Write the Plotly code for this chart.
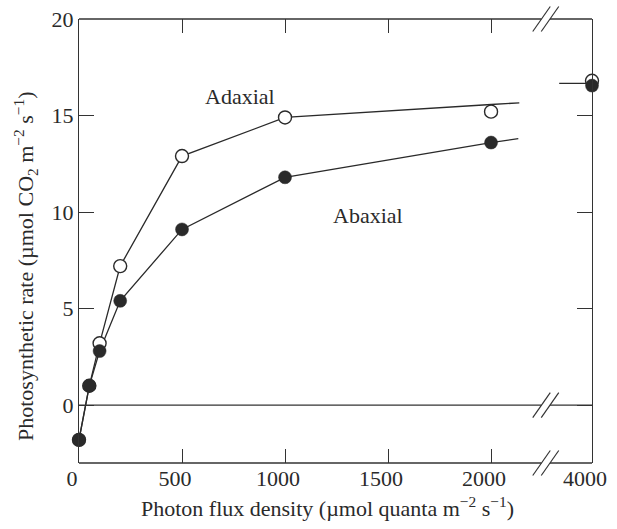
import plotly.graph_objects as go

# ---- data ----
light = [0, 50, 100, 200, 500, 1000, 2000, 4000]
adaxial = [-1.8, 1.0, 3.2, 7.2, 12.9, 14.9, 15.2, 16.8]
abaxial = [-1.8, 1.0, 2.8, 5.4, 9.1, 11.8, 13.6, 16.55]
# the drawn curves (the adaxial curve runs a little above its 2000 point)
adaxial_curve = [-1.8, 1.0, 3.2, 7.2, 12.9, 14.9, 15.57]
abaxial_curve = [-1.8, 1.0, 2.8, 5.4, 9.1, 11.8, 13.6]
# curve stubs running into the axis break (x in true units, inside the broken span)
adaxial_tail_x = [2000, 2560]
adaxial_tail_y = [15.57, 15.66]
abaxial_tail_x = [2000, 2540]
abaxial_tail_y = [13.6, 13.8]
lead_x = [3350, 4000]
lead_y = [16.67, 16.67]
x_ticks = [0, 500, 1000, 1500, 2000, 4000]
y_ticks = [0, 5, 10, 15, 20]

# ---- broken x axis: compress the 2000-4000 stretch ----
BREAK_START = 2000
COMPRESS = 0.245


def axis_x(v):
    return v if v <= BREAK_START else BREAK_START + (v - BREAK_START) * COMPRESS


def ax_list(vals):
    return [axis_x(v) for v in vals]


INK = "#2a2a2a"
FONT = "Liberation Serif"
FS = 22

W, H = 617, 529
ML, MR, MT, MB = 79, 25, 19, 66
PW, PH = W - ML - MR, H - MT - MB


def px(xp):
    return (xp - ML) / PW


def py(yp):
    return (H - MB - yp) / PH


fig = go.Figure()

n_main = light.index(2000) + 1
# lines first (so markers sit on top of every line)
fig.add_trace(go.Scatter(
    x=ax_list(light[:n_main] + adaxial_tail_x[1:]),
    y=adaxial_curve + adaxial_tail_y[1:],
    mode="lines", line=dict(color=INK, width=1.3, simplify=False),
    hoverinfo="skip", cliponaxis=False))
fig.add_trace(go.Scatter(
    x=ax_list(light[:n_main] + abaxial_tail_x[1:]),
    y=abaxial_curve + abaxial_tail_y[1:],
    mode="lines", line=dict(color=INK, width=1.3, simplify=False),
    hoverinfo="skip", cliponaxis=False))
fig.add_trace(go.Scatter(
    x=ax_list(lead_x), y=lead_y,
    mode="lines", line=dict(color=INK, width=1.3), hoverinfo="skip", cliponaxis=False))

fig.add_trace(go.Scatter(
    x=ax_list(light), y=adaxial, mode="markers", name="Adaxial",
    marker=dict(size=13, color="white", line=dict(color=INK, width=1.4)),
    cliponaxis=False))
fig.add_trace(go.Scatter(
    x=ax_list(light), y=abaxial, mode="markers", name="Abaxial",
    marker=dict(size=13, color=INK, line=dict(color=INK, width=0.5)),
    cliponaxis=False))

# frame segments with breaks
shapes = []
gap_l, gap_r = 541.5, 550.0
line_style = dict(color="#333", width=1.3)
for yline in [MT, H - MB]:
    shapes.append(dict(type="line", xref="paper", yref="paper", x0=0, x1=px(gap_l),
                       y0=py(yline), y1=py(yline), line=line_style))
    shapes.append(dict(type="line", xref="paper", yref="paper", x0=px(gap_r), x1=1,
                       y0=py(yline), y1=py(yline), line=line_style))
# zero line
shapes.append(dict(type="line", xref="paper", yref="y", x0=0, x1=px(gap_l), y0=0, y1=0,
                   line=line_style))
shapes.append(dict(type="line", xref="paper", yref="y", x0=px(gap_r), x1=1, y0=0, y1=0,
                   line=line_style))
# break marks
zero_px = MT + (20 - 0) / 23 * PH
for yc in [MT, zero_px, H - MB]:
    for xc in [gap_l, gap_r]:
        shapes.append(dict(type="line", xref="paper", yref="paper",
                           x0=px(xc - 8.75), y0=py(yc + 12.5),
                           x1=px(xc + 8.75), y1=py(yc - 12.5),
                           line=dict(color="#333", width=1.2)))


def label(text, x, y, angle=0):
    return dict(text=text, x=px(x), y=py(y), xref="paper", yref="paper",
                xanchor="center", yanchor="middle", showarrow=False, textangle=angle,
                font=dict(family=FONT, size=FS, color=INK))


annotations = [
    label("Adaxial", 240, 97),
    label("Abaxial", 368, 215),
    label("Photon flux density (\u00b5mol quanta m<sup>\u22122</sup> s<sup>\u22121</sup>)", 327, 507),
    label("Photosynthetic rate (\u00b5mol CO<sub>2</sub> m<sup>\u22122</sup> s<sup>\u22121</sup>)", 25, 266, -90),
]

fig.update_layout(
    width=W, height=H,
    margin=dict(l=ML, r=MR, t=MT, b=MB, autoexpand=False),
    paper_bgcolor="white", plot_bgcolor="white",
    showlegend=False,
    shapes=shapes,
    annotations=annotations,
    font=dict(family=FONT, size=FS, color=INK),
    xaxis=dict(range=[0, axis_x(4000)], tickvals=ax_list(x_ticks),
               ticktext=[str(v) for v in x_ticks], automargin=False,
               ticks="inside", ticklen=14, tickwidth=1.3, tickcolor="#333",
               mirror="ticks", showline=False, showgrid=False, zeroline=False,
               tickfont=dict(family=FONT, size=FS, color=INK), ticklabelshift=-7),
    yaxis=dict(range=[-3, 20], tickvals=y_ticks, automargin=False,
               ticks="inside", ticklen=15, tickwidth=1.3, tickcolor="#333",
               mirror="ticks", showline=True, linecolor="#333", linewidth=1.3,
               showgrid=False, zeroline=False,
               tickfont=dict(family=FONT, size=FS, color=INK)),
)

fig.write_html("out.html", config={"displayModeBar": False},
               post_script="document.body.style.margin='0';")
